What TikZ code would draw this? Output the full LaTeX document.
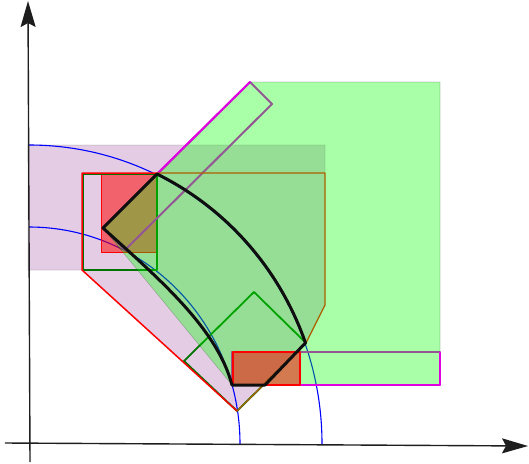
\documentclass[tikz,border=0pt]{standalone}
\usetikzlibrary{arrows.meta}
\definecolor{lilac}{RGB}{228,205,228}
\definecolor{mag}{RGB}{225,0,225}
\definecolor{brn}{RGB}{176,96,0}
\definecolor{dgreen}{RGB}{0,115,0}
\definecolor{axisc}{RGB}{30,30,30}
\definecolor{blk}{RGB}{15,15,15}
\tikzset{
  lilacfill/.style={fill=lilac, draw=black, draw opacity=0.15, line width=0.6pt},
  greenfill/.style={fill=green, fill opacity=0.34, draw=black, draw opacity=0.2, line width=0.6pt},
  redfill/.style={fill=red, fill opacity=0.52, draw=red, line width=0.8pt},
  redbox/.style={fill=red, fill opacity=0.52, draw=red, draw opacity=1, line width=2pt},
  magbox/.style={draw=mag, line width=2pt},
  bluearc/.style={draw=blue, line width=1.1pt},
  greenbox/.style={draw=dgreen, line width=1.8pt},
  brownline/.style={draw=brn, line width=1.2pt},
  redline/.style={draw=red, line width=1.5pt},
  blackshape/.style={draw=blk, line width=3pt},
  axisline/.style={draw=axisc, line width=1.4pt, -{Stealth[length=26pt,width=15pt,inset=4pt]}},
}
\begin{document}
\begin{tikzpicture}[x=1pt,y=1pt,line join=round]
\useasboundingbox (0,0) rectangle (529,-463);
% key points
\coordinate (O) at (29,-444);
\coordinate (T) at (157,-174);
\coordinate (L) at (103,-228);
\coordinate (B1) at (232,-385);
\coordinate (B2) at (265,-385);
\coordinate (P) at (237,-411);
\coordinate (M1) at (250,-82);
\coordinate (M2) at (440,-385);
% lilac region
\path[lilacfill] (28,-145) -- (325,-145) -- (325,-305) -- (306,-343) -- (P) -- (82,-270) -- (28,-270) -- cycle;
% blue arcs
\draw[bluearc] (29,-145) arc[start angle=90,end angle=0,x radius=293,y radius=299];
\draw[bluearc] (29,-227) arc[start angle=90,end angle=0,x radius=211,y radius=217];
% upper red rectangle
\path[redfill] (101,-174) rectangle (157,-252);
% green rectangle and its rotated copy
\draw[greenbox] (83.5,-174.5) rectangle (157,-270);
\draw[greenbox] (P) -- (184,-361) -- (254,-292) -- (306,-343) -- cycle;
% magenta rectangles
\draw[magbox] (L) -- (M1) -- (272,-104) -- (125,-250) -- cycle;
\draw[magbox] (232,-352) rectangle (M2);
% green region
\path[greenfill] (L) -- (M1) -- (440,-82) -- (M2) -- (B1) -- cycle;
% magenta edges on the rim of the green region
\draw[magbox, line cap=round] (T) -- (M1);
\draw[magbox] (300,-385) -- (M2) -- (440,-352);
% lower red rectangle
\path[redbox] (233,-352) rectangle (300,-385);
% red and brown outlines
\draw[redline] (157,-173) -- (82,-173) -- (82,-270) -- (P);
\draw[brownline] (157,-173) -- (325,-173) -- (325,-305) -- (306,-343) -- (P);
% black band
\draw[blackshape] (L) -- (T) arc[start angle=64.2,end angle=19.6,x radius=293,y radius=299]
  -- (B2) -- (B1) .. controls (217,-328) and (158,-278) .. (L) -- cycle;
% axes
\draw[axisline] (30,-462) -- (28,-1);
\draw[axisline] (5,-443) -- (528,-446);
\end{tikzpicture}
\end{document}
